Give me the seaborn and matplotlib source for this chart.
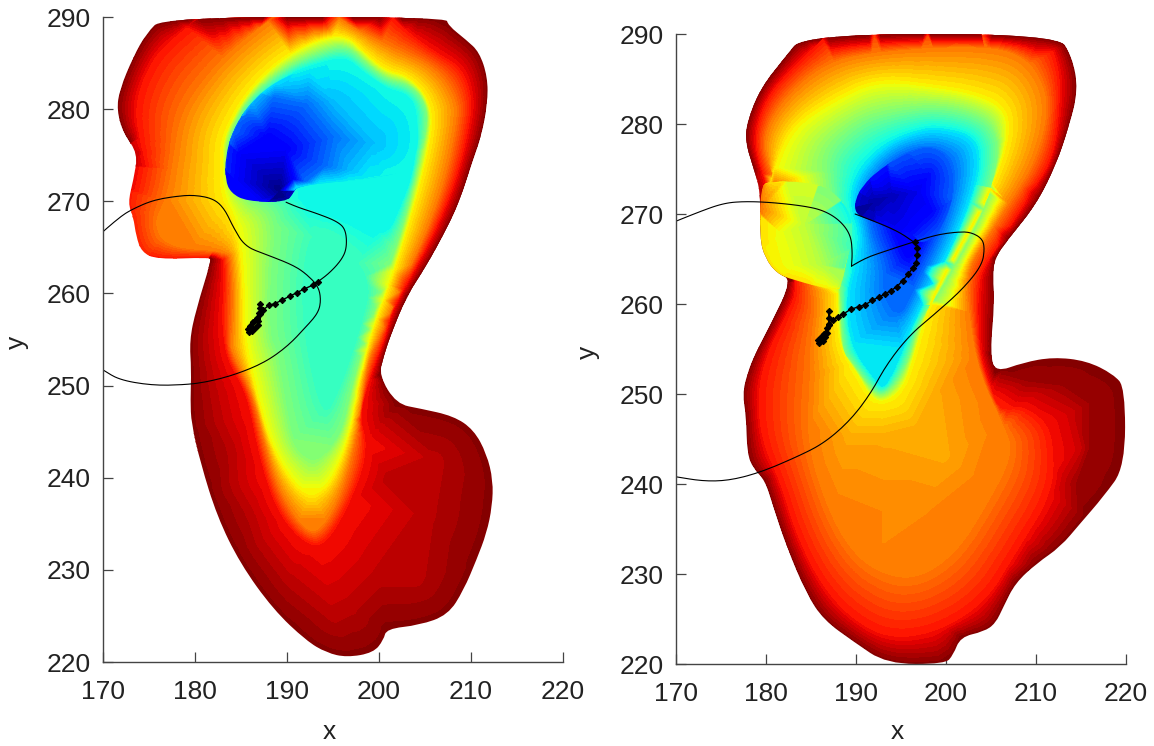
import numpy as np
import seaborn as sns
import matplotlib
matplotlib.use("Agg")
import matplotlib.pyplot as plt
from matplotlib.patches import PathPatch
from matplotlib.path import Path
from matplotlib.transforms import Affine2D

# Edge of the left field, (x, y, value)
left_outline = [
    (176.5,290,.99),(207.3,290,.99),(207.5,289.1,.99),(209.5,287.5,.99),(210.9,286.2,.99),(211.8,283.5,.99),
    (211.8,280.6,.99),(211.1,277,.99),(210.2,274.5,.99),(208.8,270.1,.99),(207.3,266.9,.99),(205.1,262.9,.99),
    (203,259.7,.99),(201.2,255.3,.99),(200.5,253.1,.99),(200,251.1,.99),(201.9,248,.99),(204.5,247.5,.99),
    (208.1,246.7,.99),(210.3,245.2,.99),(211.7,242.6,.99),(212.4,239.7,.99),(212.3,236.9,.99),(211.7,234,.99),
    (210.6,231.1,.99),(209.2,227.8,.99),(207.5,225.1,.99),(204.4,224,.99),(200.8,223.6,.99),(200.5,222.4,.99),
    (199.4,221,.99),(196.5,220.5,.99),(194.3,221,.99),(192.1,222.3,.99),(188.5,225.7,.99),(184.9,230.7,.99),
    (182.4,235.8,.99),(180.6,241.6,.99),(179.6,245.9,.99),(179.5,248.4,.99),(179.6,251.7,.99),(179.4,254.9,.99),
    (180.1,258.2,.99),(181.8,263.7,.99),(181.5,263.9,.88),(175.8,263.7,.88),(174.2,264.5,.87),(173.6,266.2,.87),
    (173.3,268.3,.87),(172.7,269.8,.88),(173.3,272.3,.9),(173.8,275.2,.93),(172.2,277.4,.99),(171.5,279.9,.99),
    (171.8,282.1,.99),(173.3,285.7,.99),(174.7,288.2,.99),
]
left_red_top = [(180.5,290),(176.5,287.1),(174.3,283.5),(173.4,279.9),(174,276.3),(174.3,275.2)]
left_red = [
    (183,263.6),(183.1,261.8),(182.9,258.2),(183,255.2),
    (183.6,252.4),(185.6,249.1),(186.7,243.4),(188.2,238),(190,234.7),(192.5,232.5),(194.3,232.9),(196.5,236.5),
    (198.3,240.8),(198.7,244.1),(197.9,246.6),(199.2,251.3),(200.8,255.3),(201.5,258.2),(204.4,263.3),(206.6,267.6),
    (208.6,272.7),(209.9,278.1),(210.2,281.3),(209.1,284.6),(205.9,286.4),(203,288.6),(201.5,290),
]
left_orange = [
    (188.5,290),(184.1,286.8),(180.5,282.8),(178.3,279.2),(177.6,274.5),(176.9,270.5),(175.4,267.6),(176.9,264.9),
    (183.6,264.5),(183.9,263.3),(184.1,259.3),(183.9,255.2),(183.8,253.8),(186.2,249.1),(187.4,244.1),(188.9,239),
    (191,235.4),(192.5,234),(193.9,234.5),(195.9,238),(197.6,244.1),(198.7,252.4),(200.1,255.2),(203,261.8),
    (205.5,267.3),(207.3,272.7),(208.4,278.1),(208.6,281),(206.2,284.6),(202.2,286.4),(197.2,288.9),(195.7,290),
]
left_yellow = [
    (192.8,287.5),(196.4,288.2),(198.6,286),(200.8,284.2),(203,283.7),(205.1,281.7),(205.9,278.8),(205,273.8),
    (203.3,267.6),(201.5,261.8),(199,255.2),(197.6,248.4),(196.7,244.1),(195,239.7),(193.5,238.3),(192.1,238.1),
    (190.3,239.7),(188.1,243.7),(186.7,248.8),(185.2,255.2),(185.2,261.8),(184.5,267.6),(182.9,270.9),(182.9,274.5),
    (183,277),(185.2,281.3),(188.5,284.9),
]
left_green = [
    (189.9,284.6),(192.8,286),(196.4,287.1),(198.6,285.1),(200.8,283.3),(203.3,282.8),(205,281),(205.4,278.4),
    (204.2,273.4),(202.8,267.6),(200.8,261.8),(198.6,255.2),(197,249.5),(196.1,245.2),(194.6,243),(192.8,241.9),
    (190.8,243.4),(190,247),(188.9,253.8),(188.1,255.2),(188.1,261.8),(188.9,268.7),(184.9,270.5),(183,275.2),
    (184.9,279.9),(187,282.4),
]
left_cyan = [
    (186.7,281),(189.9,283.7),(192.8,284.8),(196.4,285.7),(198.3,284),(200.8,282.2),(203,281.7),(204.2,279.9),
    (203.9,273.4),(202.2,269.1),(200.8,266.2),(197,268),(192,270),
]
left_teal = [(199.5,262),(198,256),(196,250),(194,246),(192,254),(191.5,262),(193,268)]
left_lobe = [(205,236),(200,229),(195,225),(206,242),(190,229),(204,229),(186,236),(184,243),(201,240),(197,226)]
left_curves = [(.89, left_red_top, False), (.89, left_red, False), (.78, left_orange, False), (.65, left_yellow, True),
               (.5, left_green, True), (.36, left_cyan, False), (.42, left_teal, True)]
left_spots = [(.945, left_lobe)]

# Dark blue patch of the left field, cut off at y = 270
left_blue_edge = [
    (191,271.6,.33),(195,272.1,.35),(197.9,272.3,.36),(204.1,273.4,.37),(204.4,279.9,.37),(200.8,282.4,.37),
    (196.4,285.3,.37),(192.8,284.6,.36),(188.8,283.1,.34),(185.9,280.6,.3),(184.1,277.7,.22),(183.3,274.8,.16),
    (183.3,272.3,.12),(183.9,270.9,.11),(185.6,270,.11),(189.9,269.9,.02),(190.7,270.9,.05),
]
left_blue_mid = [(184.9,275.2),(187.8,277),(189.9,275.6),(190.7,272.4),(184.6,272.2)]
left_blue_light = [(185.6,279.5),(188.5,281.3),(192.1,280.6),(195,277),(194.3,273.8),(192.1,272.1)]
left_blue_pale = [(189.9,282.5),(195,281),(199.4,276.3),(197,273.3)]
left_blue_core = [(189.2,271.2)]
left_blue_spots = [(.11, left_blue_mid), (.23, left_blue_light), (.31, left_blue_pale), (0., left_blue_core)]

# Edge of the right field, (x, y, value)
right_outline = [
    (184.2,290,.99),(212.4,290,.99),(214,287.5,.99),(214.7,283.8,.99),(213.6,279.5,.99),(212.2,275.4,.99),
    (210,271,.99),(207,267.3,.99),(205.4,265.1,.99),(205.2,262.9,.99),(205.4,260.3,.99),(204.9,254.5,.99),
    (205.5,252.4,.99),(208.6,253.5,.99),(211.9,254.1,.99),(215.6,253.7,.99),(218.6,252.2,.99),(219.9,250.7,.99),
    (219.9,241.9,.99),(217.5,238.6,.99),(214.9,235.6,.99),(212.7,233,.99),(210.1,231.2,.99),(207.7,229,.99),
    (206.4,226.4,.99),(205.5,224.5,.99),(204.2,223.6,.99),(201.6,223,.99),(200.8,221,.99),(199.9,220,.99),
    (193.4,220,.99),(189.7,222.5,.99),(186.4,224.9,.99),(184.5,227.8,.99),(182.3,233,.99),(180.8,237.5,.99),
    (179.9,240.4,.99),(178.6,241.7,.99),(177.9,243.4,.99),(177.8,247.5,.99),(177.4,250,.99),(177.9,252.2,.99),
    (178.8,254.5,.99),(180.5,257.7,.99),(182.9,262.7,.99),(181.2,263.4,.99),(179.9,265.1,.99),(179.3,267.3,.99),
    (179.4,272.5,.95),(178.6,275.1,.99),(177.7,278,.99),(177.9,280.3,.99),(179.4,284,.99),(182,287.3,.99),
]
right_red = [
    (186.8,290),(182.7,286.2),(179.9,282.9),(178.6,278.8),(179.2,275.1),(183.8,262.5),(182,258.4),(180.1,254.7),
    (179,250.4),(179.4,244.8),(181.6,240),(183.1,234.9),(185.7,229.3),(189,225.3),(193.4,222.7),(199,223.4),
    (204.5,226.8),(207.8,232.3),(211.9,238.9),(212,244.1),(211.2,247),(208.2,248.9),(206,248.2),(204.9,251.1),
    (203.8,254.5),(203.6,259.9),(203.8,262.1),(204,263.6),(206.4,267.3),(209.7,272.5),(212,276.2),(212.7,281.7),
    (212.7,286.2),(211.2,290),
]
right_orange = [
    (190.1,287.9),(185.7,286.2),(182,282.9),(179.7,279.1),(180.1,275.1),(185.7,261.7),(184.9,255.8),(184.9,252.2),
    (184.5,244.8),(186.4,238.2),(189,233),(192.3,230.1),(196.8,229.3),(201.2,232.3),(204.5,237.5),(207.6,243.4),
    (206.4,246.7),(203.8,252.2),(202.7,258),(202.3,263.6),(204.6,267.3),(207.9,272.5),(209.7,275.4),(211.2,279.9),
    (211.2,284),(208.6,287.9),(202.7,288.8),
]
right_top = [(192,290),(198,290),(204,290)]
right_yellow = [
    (180.5,273.6),(181.2,276.2),(183.1,279.9),(187.1,282.5),(192.3,285.1),(199,284.2),(202.7,283.6),(206.4,282.1),
    (207.1,279.1),(205.7,274.3),(203.4,269.5),(201.2,265.8),(198.3,260.3),(196.6,254.5),(195.3,250.4),(193,248.9),
    (191.5,249.6),(190.1,252.2),(188.3,254.8),(187.9,258.4),(187.9,261),
]
right_gold = [(193,245),(197,246),(189,245),(200,243),(186.5,249),(199,250)]
right_amber = [(193,237),(198,237),(188,239),(203,241),(193,233.5)]
right_lobe_dark = [(216,244),(216,249),(213,251),(209,251.5),(214.5,240)]
right_lobe_mid = [(210,250),(214,248),(215,244),(213,240)]
right_green = [
    (193.8,281.4),(190.1,280.3),(186.4,276.9),(187.1,272.5),(188.3,260.6),(188.3,257.7),(188.6,254.5),(189.4,253.7),
    (191.2,251.1),(192.7,249.6),(194.5,251.1),(196,254),(196.9,257.7),(199.7,262.1),(202.3,266.6),(204.6,271.4),
    (205.9,276.2),(205.6,279.1),(203.8,281),(199,282.1),
]
right_cyan = [
    (197.5,279.5),(193.4,278),(190.5,275.1),(189.4,272.5),(189.6,270.3),(190.5,267.7),(189.7,264),(189,261.4),
    (189,257.7),(189.9,254.5),(191.9,251.8),(193,250.4),(194.1,252.2),(195.2,254.8),(196.4,257.7),(198.6,262.1),
    (201.2,267.3),(203.4,273.2),(203.8,276.9),(202.7,278.8),(199.7,279.5),
]
right_blue = [
    (191.6,268),(193.1,264.3),(193.1,260.6),(194.9,258.4),(196.4,261.4),(198.6,265.8),(200.5,270.3),(201.2,275.1),
    (199.7,277.3),(196,277.3),(193.1,275.4),(191.2,272.5),
]
right_deep = [(194.6,266.9),(196,264.3),(198.3,269.1),(199.4,273.2),(197.9,276.2),(194.9,275.1),(192.3,273.2)]
right_curves = [(.89, right_red, False), (.78, right_orange, True), (.65, right_yellow, False), (.5, right_green, True),
                (.35, right_cyan, True), (.23, right_blue, True), (.12, right_deep, True)]
right_spots = [(.84, right_top), (.73, right_gold), (.765, right_amber), (.97, right_lobe_dark), (.93, right_lobe_mid)]

# Yellow chin of the right field, laid over the body
right_chin_edge = [
    (179.4,273.2,.78),(179.3,267.3,.67),(179.9,265.1,.66),(181.2,263.4,.66),(182.9,262.7,.67),(187.9,261.4,.65),
    (188.4,262.1,.55),(189,265.1,.45),(189.7,267.3,.42),(189.4,270.3,.36),(187.1,272.9,.5),(184.2,273.6,.6),
    (180.5,273.6,.66),
]
right_chin_spots = [(.58, [(184.2,268.8)]), (.63, [(181.6,268)]), (.57, [(186,264.3)]), (.62, [(183.4,264.3)])]

# Dark wedge of the right field
right_wedge_edge = [
    (189.9,270,.03),(189.9,271.6,.07),(190.8,273.2,.1),(192.3,274.7,.14),(194.6,276.2,.2),(197.5,277.7,.22),
    (200.1,276.9,.22),(201.2,273.6,.22),(200.1,269.5,.2),(198.3,266.9,.2),(196.4,266.9,.14),(193.1,268.8,.1),
    (191.6,269.3,.06),
]
right_wedge_spots = [(.03, [(192.2,271.4)]), (.05, [(194.1,272.1)]), (.09, [(196.7,272.5)]), (.12, [(198.5,270.3), (196,268)]),
                     (.13, [(198.1,274.3)])]

# Thin contour, two pieces per panel
left_curve_x = [170,171.8,173.3,175.4,177.6,179.8,182,183.2,184.1,185.4,187.8,190.6,192,193.4,193.7,193.4,192.1,190,187.4,184.1,181.3,179.1,175.5,171.8,170]
left_curve_y = [266.7,268.3,269.2,270.1,270.5,270.7,270.3,269.2,267.3,265.1,264.2,263.1,262.2,260.8,259.3,257.9,256.4,254.2,252.4,251.1,250.4,250.1,250,250.6,251.7]
left_branch_x = [189.9,191,193.2,195.5,196.4,196.5,195.9,194.6,193.4]
left_branch_y = [269.9,269.4,268.7,267.8,266.9,264.9,263.6,262.2,261.3]
right_curve_x = [170,172.7,175.3,177.5,180.5,184.2,186.4,188.2,189.4,189.6,189.5]
right_curve_y = [269.2,270.3,271.2,271.4,271.3,270.9,270.4,269.3,267.7,265.8,264.2]
right_loop_x = [189.5,190.8,192.7,196.4,199,201.2,202.7,204,204.3,204,201.9,199,196,193.4,191.6,189.3,186.4,183.4,179.4,176,173.1,170]
right_loop_y = [264.2,265,265.7,266.9,267.7,268,268,267.3,266.2,264.3,261.7,259.1,256.6,253.3,250,247,244.5,243,241.3,240.4,240.3,240.8]
right_branch_x = [189.9,192.3,194.8,196.4]
right_branch_y = [270,269.1,268,266.9]

# Tracks with their markers
left_track_x = [193.4,192.8,191.9,191.1,190.3,189.5,188.7,188,187.4,187.1,187.1,187.1,187,186.7,186.3,186,185.8,185.9,186.2,186.5,186.8,186.9,186.7,186.3,186]
left_track_y = [261.2,260.9,260.5,260.1,259.7,259.3,258.9,258.7,258.2,257.8,258.9,258.4,257.9,257.2,256.9,256.5,256.1,255.8,255.9,256.2,256.6,257,257.3,256.9,256.4]
right_track_x = [196.5,196.8,196.8,196.7,196.3,195.8,195.2,194.5,193.9,193.2,192.6,191.8,191,190.3,189.4,188.6,188,187.4,187,187,187,187,186.8,186.4,186.1,185.8,185.9,186.3,186.6,186.8,186.4]
right_track_y = [266.9,266.2,265.4,264.6,264,263.3,262.6,261.9,261.5,261.1,260.8,260.4,259.9,259.7,259.4,258.9,258.6,258.2,257.7,259.2,258.4,257.8,257.3,256.7,256.3,256,255.7,255.9,256.3,256.8,256.7]

x_ticks = [170, 180, 190, 200, 210, 220]
y_ticks = [220, 230, 240, 250, 260, 270, 280, 290]

sns.set_style("white")
plt.rcParams['font.family'] = ['Liberation Sans', 'DejaVu Sans']
jet = plt.get_cmap('jet')
levels = np.linspace(0, 1, 65)
W, H = 1154, 746


def smooth_path(pts, closed=False):
    p = np.asarray(pts, dtype=float)
    if closed:
        mids = (p + np.roll(p, -1, axis=0)) / 2
        verts, codes = [mids[-1]], [Path.MOVETO]
        for i in range(len(p)):
            verts += [p[i], mids[i]]
            codes += [Path.CURVE3, Path.CURVE3]
    else:
        verts, codes = [p[0]], [Path.MOVETO]
        for i in range(1, len(p) - 1):
            verts += [p[i], (p[i] + p[i + 1]) / 2]
            codes += [Path.CURVE3, Path.CURVE3]
        verts.append(p[-1])
        codes.append(Path.LINETO)
    return Path(verts, codes)


def flatten(path):
    # let matplotlib turn the curve into a polyline, at a finer scale than data units
    return path.to_polygons(Affine2D().scale(60), closed_only=False)[0] / 60


def draw_field(ax, edge, curves, spots):
    edge = np.array(edge)
    clip = smooth_path(edge[:, :2], closed=True)
    rim = flatten(clip)
    near = np.argmin(((rim[:, None, :] - edge[None, :, :2]) ** 2).sum(axis=2), axis=1)
    parts = [np.c_[rim, edge[near, 2]], edge]
    for value, pts, closed in curves:
        line = flatten(smooth_path(pts, closed))
        parts.append(np.c_[line, np.full(len(line), value)])
    for value, pts in spots:
        pts = np.array(pts, dtype=float)
        parts.append(np.c_[pts, np.full(len(pts), value)])
    nodes = np.unique(np.round(np.vstack(parts), 4), axis=0)
    _, keep = np.unique(nodes[:, :2], axis=0, return_index=True)
    nodes = nodes[keep]
    cs = ax.tricontourf(nodes[:, 0], nodes[:, 1], nodes[:, 2], levels=levels, cmap=jet, vmin=0, vmax=1)
    patch = PathPatch(clip, transform=ax.transData, fc='none', ec='none')
    ax.add_patch(patch)
    cs.set_clip_path(patch)


def draw_lines(ax, curves, track):
    for cx, cy in curves:
        line = flatten(smooth_path(np.c_[cx, cy]))
        sns.lineplot(x=line[:, 0], y=line[:, 1], ax=ax, sort=False, estimator=None, color='k', lw=0.8)
    sns.lineplot(x=track[0], y=track[1], ax=ax, sort=False, estimator=None, color='k', lw=1.0,
                 marker='D', markersize=3.2, markeredgecolor='k')


def finish(ax, xlab_y, ylab_x):
    ax.set_xlim(170, 220)
    ax.set_ylim(220, 290)
    ax.set_xticks(x_ticks)
    ax.set_yticks(y_ticks)
    ax.set_xlabel('x', fontsize=19, color='#222222')
    ax.set_ylabel('y', fontsize=19, color='#222222')
    ax.xaxis.set_label_coords(0.492, xlab_y)
    ax.yaxis.set_label_coords(ylab_x, 0.495)
    ax.tick_params(direction='in', length=7, width=0.9, color='#444444', labelsize=19, labelcolor='#222222',
                   bottom=True, left=True)
    ax.tick_params(axis='x', pad=13)
    ax.tick_params(axis='y', pad=9)
    sns.despine(ax=ax)
    for s in ['left', 'bottom']:
        ax.spines[s].set_color('#444444')
        ax.spines[s].set_linewidth(1.0)


fig = plt.figure(figsize=(W / 100, H / 100), dpi=100)
ax1 = fig.add_axes([103 / W, 1 - 662 / H, 460 / W, 645 / H])
ax2 = fig.add_axes([676 / W, 1 - 664 / H, 450 / W, 630 / H])

draw_field(ax1, left_outline, left_curves, left_spots)
draw_field(ax1, left_blue_edge, [], left_blue_spots)
draw_lines(ax1, [(left_curve_x, left_curve_y), (left_branch_x, left_branch_y)], (left_track_x, left_track_y))
finish(ax1, -58 / 645, -74 / 460)

draw_field(ax2, right_outline, right_curves, right_spots)
draw_field(ax2, right_chin_edge, [], right_chin_spots)
draw_field(ax2, right_wedge_edge, [], right_wedge_spots)
draw_lines(ax2, [(right_curve_x, right_curve_y), (right_loop_x, right_loop_y), (right_branch_x, right_branch_y)],
           (right_track_x, right_track_y))
finish(ax2, -56 / 630, -76 / 450)

fig.savefig('out.png', dpi=100)
